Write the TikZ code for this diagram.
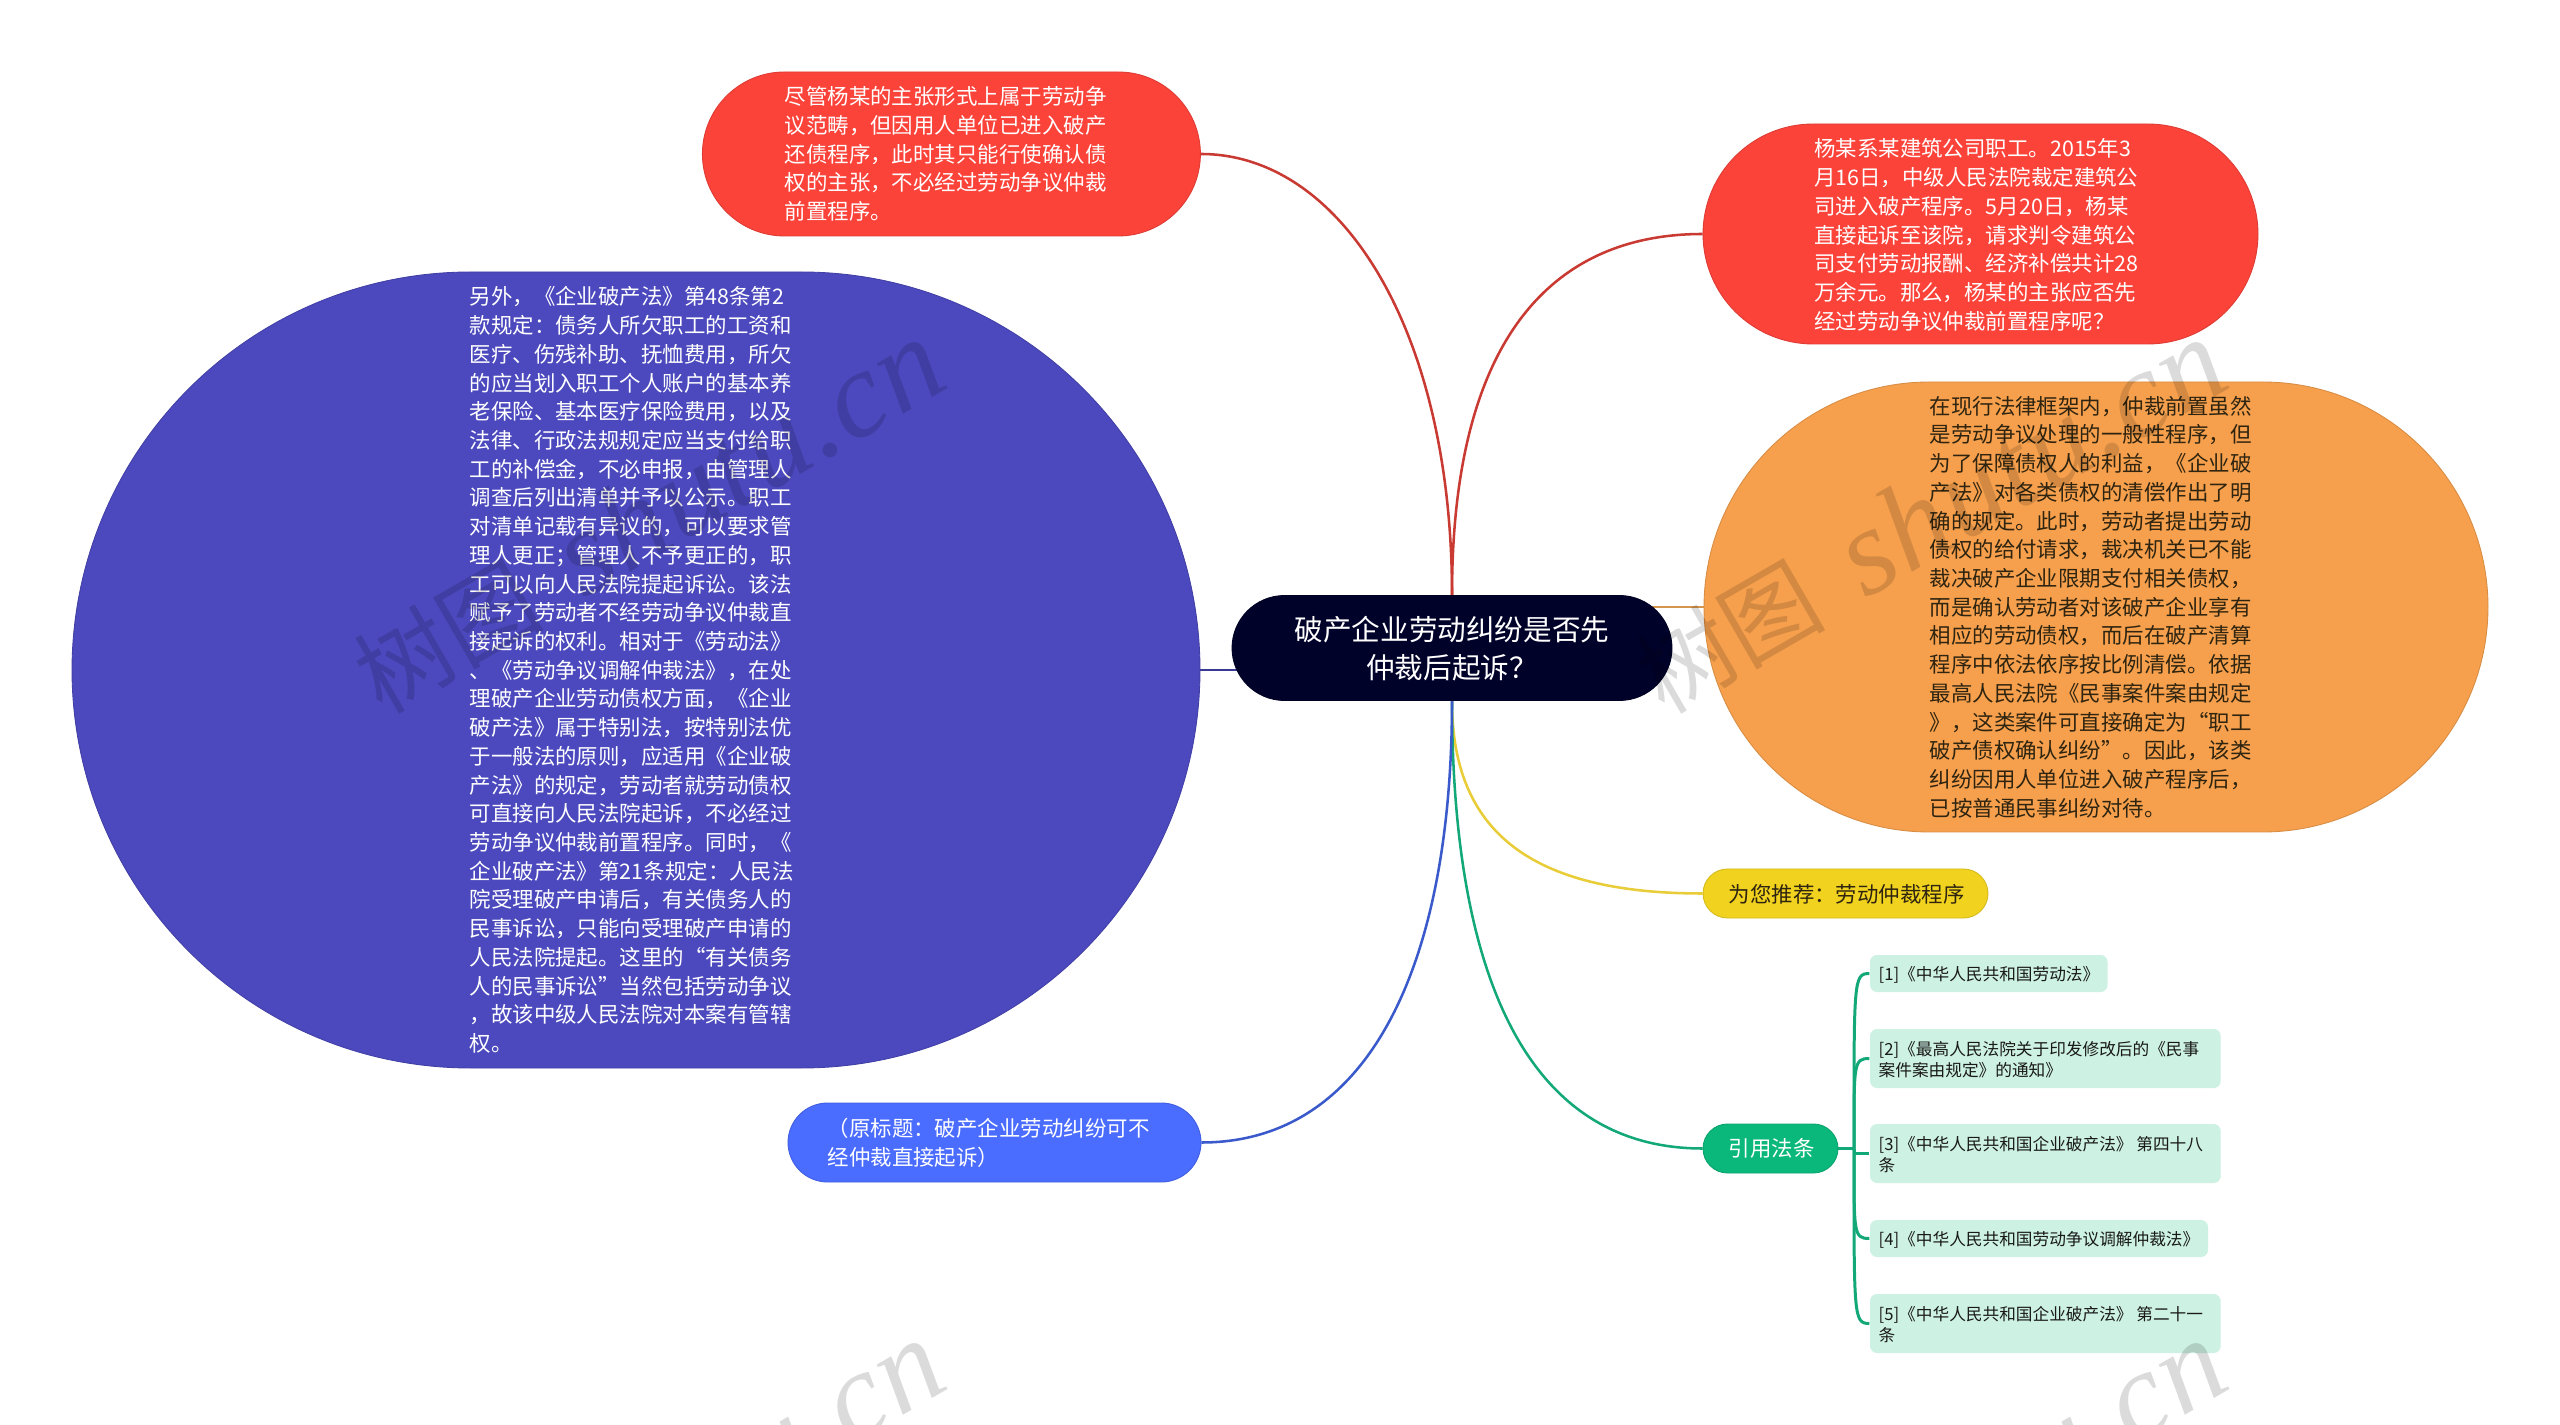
\documentclass[tikz,border=0pt]{standalone}
\usepackage{fontspec}
\setmainfont{Noto Sans CJK SC}
\newfontfamily\wmlatin[LetterSpace=1.5]{Liberation Serif}
\usetikzlibrary{backgrounds}
\definecolor{cRoot}{HTML}{000229}
\definecolor{cRed}{HTML}{FB433A}
\definecolor{cPurple}{HTML}{4B49BD}
\definecolor{cBlue}{HTML}{4A6CFF}
\definecolor{cOrange}{HTML}{F6A04D}
\definecolor{cYellow}{HTML}{F1D31F}
\definecolor{cGreen}{HTML}{0BB87B}
\definecolor{cLeaf}{HTML}{CDF1E3}
\definecolor{cDark}{HTML}{2E2410}
\definecolor{lRed}{HTML}{C93A33}
\definecolor{lPurple}{HTML}{3A3996}
\definecolor{lBlue}{HTML}{3A5ACB}
\definecolor{lOrange}{HTML}{D4954F}
\definecolor{lYellow}{HTML}{E9CD38}
\definecolor{lGreen}{HTML}{12A878}
\tikzset{
  pill/.style n args={3}{shape=rectangle,inner sep=0pt,minimum width=#1*0.01cm,minimum height=#2*0.01cm,
    rounded corners=#2*0.005cm,fill=#3,draw=#3!88!black,line width=0.25pt},
  leafbox/.style n args={2}{shape=rectangle,inner sep=0pt,minimum width=#1*0.01cm,minimum height=#2*0.01cm,
    rounded corners=0.07cm,fill=cLeaf},
  txt/.style={inner sep=0pt,align=left,anchor=west,font=\fontsize{6.1}{8.165}\selectfont},
  leaftxt/.style={inner sep=0pt,align=left,anchor=west,text=black!90,font=\fontsize{4.74}{5.97}\selectfont},
  conn/.style={line width=0.72pt,#1},
  subconn/.style={line width=0.85pt,lGreen},
  watermark/.style={inner sep=0pt,rotate=30,text=black,text opacity=0.14,font=\fontsize{27}{36}\selectfont}
}
\newcommand{\wmtext}{树图\hspace{0.1em}{\wmlatin\itshape\fontsize{35}{36}\selectfont\ shutu.cn}}
\begin{document}
\begin{tikzpicture}[x=0.01cm,y=-0.01cm]
\useasboundingbox (0,0) rectangle (2560,1425);
% main shapes
\node[pill={440}{105}{cRoot}] (root) at (1452,648) {};
\node[pill={498}{164}{cRed}] (red1) at (951.4,154) {};
\node[pill={1128}{796}{cPurple}] (purple) at (636,670) {};
\node[pill={413}{79}{cBlue}] (blue) at (994.5,1142.5) {};
\node[pill={555}{220}{cRed}] (red2) at (1980.5,234) {};
\node[pill={784}{450}{cOrange}] (orange) at (2096,607) {};
\node[pill={285}{49}{cYellow}] (yellow) at (1845.5,893.5) {};
\node[pill={135}{49}{cGreen}] (green) at (1770.5,1148.5) {};
\node[leafbox={237.5}{37}] (l1) at (1988.75,973.5) {};
\node[leafbox={350.7}{59}] (l2) at (2045.35,1058.5) {};
\node[leafbox={350.7}{59}] (l3) at (2045.35,1153.5) {};
\node[leafbox={338}{37}] (l4) at (2039,1238.5) {};
\node[leafbox={350.7}{59}] (l5) at (2045.35,1323.5) {};
\coordinate (hub) at (1854,1148.5);
% connectors
\begin{scope}[on background layer]
\fill[white] (0,0) rectangle (2560,1425);
\draw[conn=lRed] (root.north) .. controls +(0,-266) and +(140,0) .. (red1.east);
\draw[conn=lRed] (root.north) .. controls +(0,-266) and +(-143,0) .. (red2.west);
\draw[conn=lPurple] (purple.east) -- (purple.east -| root.center);
\draw[conn=lOrange] (orange.west) -- (orange.west -| root.center);
\draw[conn=lYellow] (root.south) .. controls +(0,130) and +(-173,0) .. (yellow.west);
\draw[conn=lGreen] (root.south) .. controls +(0,260) and +(-183,0) .. (green.west);
\draw[conn=lBlue] (root.south) .. controls +(0,260) and +(170,0) .. (blue.east);
\draw[subconn] (green.east) -- (hub);
\draw[subconn] (hub) .. controls +(0,-168) and +(-16,0) .. (l1.west);
\draw[subconn] (hub) .. controls +(0,-85) and +(-16,0) .. (l2.west);
\draw[subconn] (hub) -- (hub |- l3.west) -- (l3.west);
\draw[subconn] (hub) .. controls +(0,85) and +(-16,0) .. (l4.west);
\draw[subconn] (hub) .. controls +(0,168) and +(-16,0) .. (l5.west);
\end{scope}
% texts
\node[inner sep=0pt,align=center,text=white,font=\fontsize{8.14}{10.8}\selectfont] (troot) at (1452,649) {破产企业劳动纠纷是否先\\仲裁后起诉？};
\node[txt,text=white] (tred1) at (784,154) {尽管杨某的主张形式上属于劳动争\\议范畴，但因用人单位已进入破产\\还债程序，此时其只能行使确认债\\权的主张，不必经过劳动争议仲裁\\前置程序。};
\node[txt,text=white] (tpurple) at (469,670) {另外，《企业破产法》第48条第2\\款规定：债务人所欠职工的工资和\\医疗、伤残补助、抚恤费用，所欠\\的应当划入职工个人账户的基本养\\老保险、基本医疗保险费用，以及\\法律、行政法规规定应当支付给职\\工的补偿金，不必申报，由管理人\\调查后列出清单并予以公示。职工\\对清单记载有异议的，可以要求管\\理人更正；管理人不予更正的，职\\工可以向人民法院提起诉讼。该法\\赋予了劳动者不经劳动争议仲裁直\\接起诉的权利。相对于《劳动法》\\、《劳动争议调解仲裁法》，在处\\理破产企业劳动债权方面，《企业\\破产法》属于特别法，按特别法优\\于一般法的原则，应适用《企业破\\产法》的规定，劳动者就劳动债权\\可直接向人民法院起诉，不必经过\\劳动争议仲裁前置程序。同时，《\\企业破产法》第21条规定：人民法\\院受理破产申请后，有关债务人的\\民事诉讼，只能向受理破产申请的\\人民法院提起。这里的“有关债务\\人的民事诉讼”当然包括劳动争议\\，故该中级人民法院对本案有管辖\\权。};
\node[txt,text=white] (tblue) at (827,1143) {（原标题：破产企业劳动纠纷可不\\经仲裁直接起诉）};
\node[txt,text=white] (tred2) at (1813.5,235) {杨某系某建筑公司职工。2015年3\\月16日，中级人民法院裁定建筑公\\司进入破产程序。5月20日，杨某\\直接起诉至该院，请求判令建筑公\\司支付劳动报酬、经济补偿共计28\\万余元。那么，杨某的主张应否先\\经过劳动争议仲裁前置程序呢？};
\node[txt,text=cDark] (torange) at (1929,607) {在现行法律框架内，仲裁前置虽然\\是劳动争议处理的一般性程序，但\\为了保障债权人的利益，《企业破\\产法》对各类债权的清偿作出了明\\确的规定。此时，劳动者提出劳动\\债权的给付请求，裁决机关已不能\\裁决破产企业限期支付相关债权，\\而是确认劳动者对该破产企业享有\\相应的劳动债权，而后在破产清算\\程序中依法依序按比例清偿。依据\\最高人民法院《民事案件案由规定\\》，这类案件可直接确定为“职工\\破产债权确认纠纷”。因此，该类\\纠纷因用人单位进入破产程序后，\\已按普通民事纠纷对待。};
\node[txt,text=cDark] (tyellow) at (1728,894) {为您推荐：劳动仲裁程序};
\node[txt,text=white] (tgreen) at (1728,1148.5) {引用法条};
\node[leaftxt] (tl1) at (1878,975) {[1]《中华人民共和国劳动法》};
\node[leaftxt] (tl2) at (1878,1059.5) {[2]《最高人民法院关于印发修改后的《民事\\案件案由规定》的通知》};
\node[leaftxt] (tl3) at (1878,1154.5) {[3]《中华人民共和国企业破产法》 第四十八\\条};
\node[leaftxt] (tl4) at (1878,1240) {[4]《中华人民共和国劳动争议调解仲裁法》};
\node[leaftxt] (tl5) at (1878,1324.5) {[5]《中华人民共和国企业破产法》 第二十一\\条};
% watermarks
\begin{scope}
\clip (0,0) rectangle (2560,1425);
\node[watermark] (w1) at (648,517) {\wmtext};
\node[watermark] (w2) at (1930,517) {\wmtext};
\node[watermark] (w3) at (648,1518) {\wmtext};
\node[watermark] (w4) at (1930,1518) {\wmtext};
\end{scope}
\end{tikzpicture}
\end{document}
